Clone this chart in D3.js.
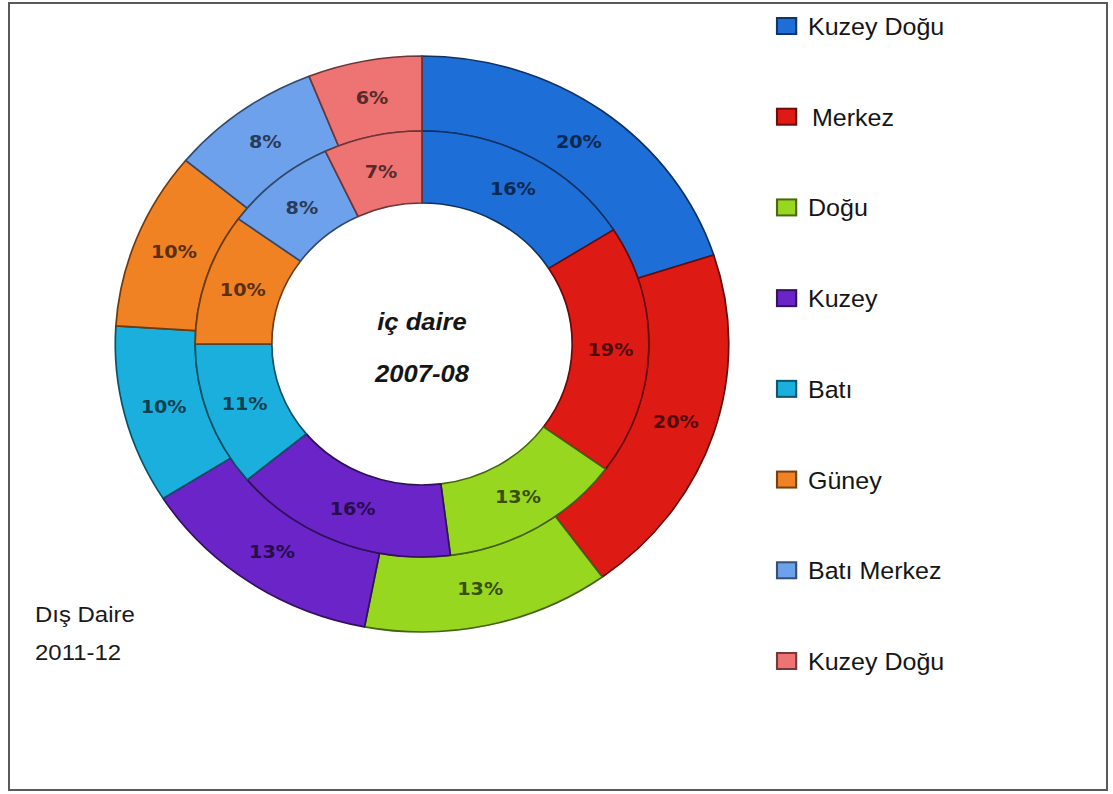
<!DOCTYPE html>
<html>
<head>
<meta charset="utf-8">
<script src="https://cdn.jsdelivr.net/npm/d3@7"></script>
<style>
  html, body { margin: 0; padding: 0; background: #fff; }
  svg { display: block; }
</style>
</head>
<body>
<svg id="chart" width="1113" height="794"></svg>
<script>
// ---- data ----
const categories = ["Kuzey Doğu", "Merkez", "Doğu", "Kuzey", "Batı", "Güney", "Batı Merkez", "Kuzey Doğu"];
const outer2011 = [20, 20, 13, 13, 10, 10, 8, 6];   // Dış Daire 2011-12
const inner2007 = [16, 19, 13, 16, 11, 10, 8, 7];   // iç daire 2007-08
const colors = ["#1e6ed8", "#de1a15", "#97d71f", "#6a24c8", "#1aafdc", "#f08224", "#6ea1eb", "#ee7474"];
const centerLabels = ["iç daire", "2007-08"];
const outerLabels = ["Dış Daire", "2011-12"];

// ---- layout ----
const W = 1113, H = 794;
const sx = 1.065;                 // horizontal stretch of the original picture
const cx = 422 / sx, cy = 344;
const rOuter = 288, rMid = 213, rInner = 141;

const svg = d3.select("#chart");

// frame
svg.append("rect")
  .attr("x", 9).attr("y", 3).attr("width", 1098).attr("height", 787)
  .attr("fill", "#fff").attr("stroke", "#5a5a5a").attr("stroke-width", 2);

const g = svg.append("g").attr("transform", `scale(${sx},1)`);

const pie = d3.pie().sort(null).value(d => d);
const arcOuter = d3.arc().innerRadius(rMid).outerRadius(rOuter);
const arcInner = d3.arc().innerRadius(rInner).outerRadius(rMid);

const donut = g.append("g").attr("transform", `translate(${cx},${cy})`);

function ring(values, arc, cls) {
  const arcs = pie(values);
  const grp = donut.append("g").attr("class", cls);
  grp.selectAll("path").data(arcs).join("path")
    .attr("d", arc)
    .attr("fill", (d, i) => colors[i])
    .attr("stroke", (d, i) => d3.color(colors[i]).darker(2.2))
    .attr("stroke-width", 1.6)
    .attr("stroke-linejoin", "round");
  grp.selectAll("text").data(arcs).join("text")
    .attr("transform", d => `translate(${arc.centroid(d)})`)
    .attr("text-anchor", "middle")
    .attr("dy", "0.36em")
    .attr("font-family", "DejaVu Sans, Verdana, sans-serif")
    .attr("font-weight", "bold")
    .attr("font-size", 18)
    .attr("fill", (d, i) => d3.color(colors[i]).darker(2.8))
    .text(d => d.data + "%");
}
ring(outer2011, arcOuter, "outer");
ring(inner2007, arcInner, "inner");

// center labels
donut.selectAll("text.center").data(centerLabels).join("text")
  .attr("class", "center")
  .attr("x", 0)
  .attr("y", (d, i) => -14 + i * 52)
  .attr("text-anchor", "middle")
  .attr("font-family", "Liberation Sans, Arial, sans-serif")
  .attr("font-style", "italic")
  .attr("font-weight", "bold")
  .attr("font-size", 24)
  .attr("fill", "#151515")
  .text(d => d);

// outer ring caption
g.selectAll("text.cap").data(outerLabels).join("text")
  .attr("class", "cap")
  .attr("x", 35 / sx)
  .attr("y", (d, i) => 622 + i * 38)
  .attr("font-family", "Liberation Sans, Arial, sans-serif")
  .attr("font-size", 22.5)
  .attr("fill", "#1a1a1a")
  .text(d => d);

// legend
const legY = d3.scalePoint().domain(d3.range(categories.length)).range([35, 670]);
const leg = g.append("g");
const items = leg.selectAll("g").data(categories).join("g")
  .attr("transform", (d, i) => `translate(${777 / sx},${legY(i)})`);
items.append("rect")
  .attr("x", 0).attr("y", -17).attr("width", 18).attr("height", 16)
  .attr("fill", (d, i) => colors[i])
  .attr("stroke", (d, i) => d3.color(colors[i]).darker(2))
  .attr("stroke-width", 2);
items.append("text")
  .attr("x", (d, i) => (i === 1 ? 35 : 31) / sx)
  .attr("y", 0)
  .attr("font-family", "Liberation Sans, Arial, sans-serif")
  .attr("font-size", 23.5)
  .attr("fill", "#151515")
  .text(d => d);
</script>
</body>
</html>
